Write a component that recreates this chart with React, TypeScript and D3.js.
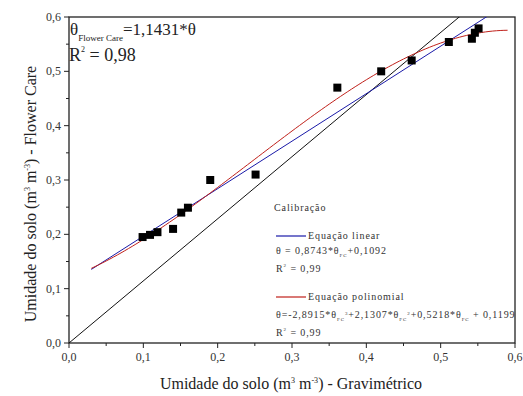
import React, { useRef, useEffect } from 'react';
import * as d3 from 'd3';

// measured points (gravimetric vs Flower Care)
const gravimetrico = [0.099, 0.109, 0.119, 0.14, 0.151, 0.16, 0.19, 0.251, 0.361, 0.42, 0.461, 0.511, 0.542, 0.546, 0.551];
const flowerCare = [0.195, 0.199, 0.204, 0.21, 0.24, 0.249, 0.3, 0.31, 0.47, 0.5, 0.52, 0.554, 0.56, 0.571, 0.579];

// fitted equations, as printed in the chart
const linearCoef = [0.8743, 0.1092];
const polyCoef = [-2.8915, 2.1307, 0.5218, 0.1199];
const oneToOneSlope = 1.1431;
const fitDomain = [0.03, 0.59];

const xTicks = [0, 0.1, 0.2, 0.3, 0.4, 0.5, 0.6];
const yTicks = [0, 0.1, 0.2, 0.3, 0.4, 0.5, 0.6];
const minorTicks = [0.05, 0.15, 0.25, 0.35, 0.45, 0.55];

const W = 523;
const H = 396;

function App() {
  const svgRef = useRef<SVGSVGElement>(null);

  useEffect(() => {
    const svg = d3.select(svgRef.current);
    svg.selectAll('*').remove();

    const left = 69, right = 515, top = 17, bottom = 343;
    const x = d3.scaleLinear().domain([0, 0.6]).range([left, right]);
    const y = d3.scaleLinear().domain([0, 0.6]).range([bottom, top]);
    const fmt = (d: number) => d.toFixed(1).replace('.', ',');

    svg.append('clipPath').attr('id', 'plotclip')
      .append('rect').attr('x', left).attr('y', top)
      .attr('width', right - left).attr('height', bottom - top);

    // frame
    svg.append('rect')
      .attr('x', left).attr('y', top)
      .attr('width', right - left).attr('height', bottom - top)
      .attr('fill', 'none').attr('stroke', '#222').attr('stroke-width', 1.3);

    // ticks
    const ax = svg.append('g').attr('stroke', '#222').attr('stroke-width', 1);
    xTicks.forEach(t => {
      ax.append('line').attr('x1', x(t)).attr('x2', x(t)).attr('y1', bottom).attr('y2', bottom + 5);
    });
    minorTicks.forEach(t => {
      ax.append('line').attr('x1', x(t)).attr('x2', x(t)).attr('y1', bottom).attr('y2', bottom + 3);
      ax.append('line').attr('y1', y(t)).attr('y2', y(t)).attr('x1', left).attr('x2', left - 3);
    });
    yTicks.forEach(t => {
      ax.append('line').attr('y1', y(t)).attr('y2', y(t)).attr('x1', left).attr('x2', left - 5);
    });

    const serif = "'Liberation Serif', 'Times New Roman', serif";
    svg.append('g').selectAll('text').data(xTicks).enter().append('text')
      .attr('x', d => x(d)).attr('y', bottom + 18)
      .attr('text-anchor', 'middle')
      .attr('font-family', serif).attr('font-size', 12).attr('fill', '#333')
      .text(fmt);
    svg.append('g').selectAll('text').data(yTicks).enter().append('text')
      .attr('x', left - 8).attr('y', d => y(d) + 4)
      .attr('text-anchor', 'end')
      .attr('font-family', serif).attr('font-size', 12).attr('fill', '#333')
      .text(fmt);

    // axis titles
    const xt = svg.append('text')
      .attr('x', 291).attr('y', 389).attr('text-anchor', 'middle')
      .attr('font-family', serif).attr('font-size', 16).attr('fill', '#222');
    xt.append('tspan').text('Umidade do solo (m');
    xt.append('tspan').attr('dy', -6).attr('font-size', 8).text('3');
    xt.append('tspan').attr('dy', 6).text(' m');
    xt.append('tspan').attr('dy', -6).attr('font-size', 8).text('-3');
    xt.append('tspan').attr('dy', 6).text(') - Gravimétrico');

    const yt = svg.append('text')
      .attr('transform', `translate(36, 194) rotate(-90)`)
      .attr('text-anchor', 'middle')
      .attr('font-family', serif).attr('font-size', 16).attr('fill', '#222');
    yt.append('tspan').text('Umidade do solo (m');
    yt.append('tspan').attr('dy', -6).attr('font-size', 8).text('3');
    yt.append('tspan').attr('dy', 6).text(' m');
    yt.append('tspan').attr('dy', -6).attr('font-size', 8).text('-3');
    yt.append('tspan').attr('dy', 6).text(') - Flower Care');

    const plot = svg.append('g').attr('clip-path', 'url(#plotclip)');

    // reference line
    plot.append('line')
      .attr('x1', x(0)).attr('y1', y(0))
      .attr('x2', x(0.6)).attr('y2', y(0.6 * oneToOneSlope))
      .attr('stroke', '#111').attr('stroke-width', 1);

    const xs = d3.range(fitDomain[0], fitDomain[1] + 0.0001, 0.005);
    const line = d3.line<number[]>().x(d => x(d[0])).y(d => y(d[1]));

    const linY = (v: number) => linearCoef[0] * v + linearCoef[1];
    plot.append('path')
      .attr('d', line([[fitDomain[0], linY(fitDomain[0])], [0.6, linY(0.6)]]))
      .attr('fill', 'none').attr('stroke', '#1a1aa8').attr('stroke-width', 1);

    const polyY = (v: number) => polyCoef[0] * v ** 3 + polyCoef[1] * v ** 2 + polyCoef[2] * v + polyCoef[3];
    plot.append('path')
      .attr('d', line(xs.map(v => [v, polyY(v)])))
      .attr('fill', 'none').attr('stroke', '#c0201a').attr('stroke-width', 1);

    // points
    const sz = 8;
    plot.append('g').selectAll('rect').data(gravimetrico).enter().append('rect')
      .attr('x', (d) => x(d) - sz / 2)
      .attr('y', (_d, i) => y(flowerCare[i]) - sz / 2)
      .attr('width', sz).attr('height', sz).attr('fill', '#000');

    // annotation top left
    const a1 = svg.append('text').attr('x', 70).attr('y', 35)
      .attr('font-family', serif).attr('font-size', 17).attr('fill', '#222');
    a1.append('tspan').text('θ');
    a1.append('tspan').attr('dy', 6).attr('font-size', 9).text('Flower Care');
    a1.append('tspan').attr('dy', -6).text('=1,1431*θ');
    const a2 = svg.append('text').attr('x', 69).attr('y', 61)
      .attr('font-family', serif).attr('font-size', 18).attr('fill', '#222');
    a2.append('tspan').text('R');
    a2.append('tspan').attr('dy', -9).attr('font-size', 8).text('2');
    a2.append('tspan').attr('dy', 9).text(' = 0,98');

    // legend
    const lg = svg.append('g').attr('font-family', serif).attr('font-size', 10)
      .attr('letter-spacing', 0.9).attr('fill', '#333');
    lg.append('text').attr('x', 274).attr('y', 211).text('Calibração');

    lg.append('line').attr('x1', 276).attr('x2', 306).attr('y1', 236).attr('y2', 236)
      .attr('stroke', '#1a1aa8').attr('stroke-width', 1.2);
    lg.append('text').attr('x', 308).attr('y', 239).text('Equação linear');
    const e1 = lg.append('text').attr('x', 276).attr('y', 254);
    e1.append('tspan').text('θ = 0,8743*θ');
    e1.append('tspan').attr('dy', 3).attr('font-size', 5).text('FC');
    e1.append('tspan').attr('dy', -3).text('+0,1092');
    const r1 = lg.append('text').attr('x', 276).attr('y', 272);
    r1.append('tspan').text('R');
    r1.append('tspan').attr('dy', -5).attr('font-size', 5).text('2');
    r1.append('tspan').attr('dy', 5).text(' = 0,99');

    lg.append('line').attr('x1', 276).attr('x2', 306).attr('y1', 297).attr('y2', 297)
      .attr('stroke', '#c0201a').attr('stroke-width', 1.2);
    lg.append('text').attr('x', 308).attr('y', 300).text('Equação polinomial');
    const e2 = lg.append('text').attr('x', 276).attr('y', 318);
    e2.append('tspan').text('θ=-2,8915*θ');
    e2.append('tspan').attr('dy', 3).attr('font-size', 5).text('FC');
    e2.append('tspan').attr('dy', -6).attr('font-size', 5).text('3');
    e2.append('tspan').attr('dy', 3).text('+2,1307*θ');
    e2.append('tspan').attr('dy', 3).attr('font-size', 5).text('FC');
    e2.append('tspan').attr('dy', -6).attr('font-size', 5).text('2');
    e2.append('tspan').attr('dy', 3).text('+0,5218*θ');
    e2.append('tspan').attr('dy', 3).attr('font-size', 5).text('FC');
    e2.append('tspan').attr('dy', -3).text(' + 0,1199');
    const r2 = lg.append('text').attr('x', 276).attr('y', 336);
    r2.append('tspan').text('R');
    r2.append('tspan').attr('dy', -5).attr('font-size', 5).text('2');
    r2.append('tspan').attr('dy', 5).text(' = 0,99');
  }, []);

  return (
    <svg
      ref={svgRef}
      width={W}
      height={H}
      style={{ position: 'absolute', left: 0, top: 0, background: '#fff' }}
    />
  );
}

export default App;
